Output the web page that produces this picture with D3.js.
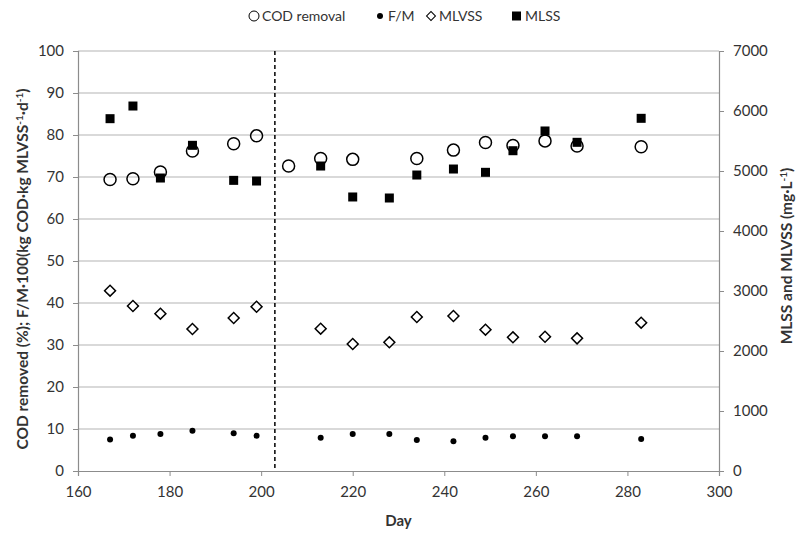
<!DOCTYPE html>
<html>
<head>
<meta charset="utf-8">
<script src="https://cdn.jsdelivr.net/npm/d3@7"></script>
<style>
  body { margin: 0; background: #fff; }
  text { font-family: Lato, "Liberation Sans", sans-serif; fill: #333; }
</style>
</head>
<body>
<script>
(function() {
    'use strict';

    // data
    var codDays = [167, 172, 178, 185, 194, 199, 206, 213, 220, 234, 242, 249, 255, 262, 269, 283];
    var codRemoval = [69.4, 69.6, 71.2, 76.2, 77.9, 79.8, 72.6, 74.4, 74.2, 74.4, 76.4, 78.2, 77.5, 78.6, 77.4, 77.2];

    var days = [167, 172, 178, 185, 194, 199, 213, 220, 228, 234, 242, 249, 255, 262, 269, 283];
    var fm = [7.5, 8.4, 8.8, 9.6, 9.0, 8.4, 7.9, 8.8, 8.8, 7.4, 7.1, 7.9, 8.3, 8.3, 8.3, 7.6];
    var mlvss = [3005, 2750, 2622, 2367, 2550, 2738, 2372, 2117, 2145, 2567, 2583, 2355, 2228, 2238, 2211, 2472];
    var mlss = [5872, 6083, 4883, 5428, 4844, 4833, 5083, 4567, 4550, 4933, 5033, 4978, 5338, 5667, 5478, 5878];

    var dayTicks = [160, 180, 200, 220, 240, 260, 280, 300];
    var leftTicks = [0, 10, 20, 30, 40, 50, 60, 70, 80, 90, 100];
    var rightTicks = [0, 1000, 2000, 3000, 4000, 5000, 6000, 7000];
    var phaseDay = 203;

    var width = 797, height = 533;
    var margin = { top: 51, right: 78, bottom: 62, left: 78 };

    var svg = d3.select('body').append('svg')
        .attr('width', width)
        .attr('height', height);

    var x = d3.scaleLinear().domain([160, 300]).range([margin.left, width - margin.right]);
    var yL = d3.scaleLinear().domain([0, 100]).range([height - margin.bottom, margin.top]);
    var yR = d3.scaleLinear().domain([0, 7000]).range([height - margin.bottom, margin.top]);

    // gridlines
    svg.append('g')
        .selectAll('line')
        .data(leftTicks.slice(1))
        .enter().append('line')
        .attr('x1', x(160)).attr('x2', x(300))
        .attr('y1', function(d) { return yL(d); })
        .attr('y2', function(d) { return yL(d); })
        .attr('stroke', '#b3b3b3')
        .attr('stroke-width', 1.2);

    // axes
    var xAxis = svg.append('g')
        .attr('transform', 'translate(0,' + yL(0) + ')')
        .call(d3.axisBottom(x).tickValues(dayTicks).tickSize(5).tickPadding(10));
    var leftAxis = svg.append('g')
        .attr('transform', 'translate(' + x(160) + ',0)')
        .call(d3.axisLeft(yL).tickValues(leftTicks).tickSize(5).tickPadding(9));
    var rightAxis = svg.append('g')
        .attr('transform', 'translate(' + x(300) + ',0)')
        .call(d3.axisRight(yR).tickValues(rightTicks).tickFormat(d3.format('d')).tickSize(5).tickPadding(9));

    [xAxis, leftAxis, rightAxis].forEach(function(g) {
        g.select('.domain').attr('stroke', '#8c8c8c').attr('stroke-width', 1.2);
        g.selectAll('.tick line').attr('stroke', '#8c8c8c');
        g.selectAll('.tick text')
            .style('font-family', 'Lato, "Liberation Sans", sans-serif')
            .style('font-size', '15px')
            .attr('fill', '#333');
    });

    // phase divider
    svg.append('line')
        .attr('x1', x(phaseDay)).attr('x2', x(phaseDay))
        .attr('y1', yL(100)).attr('y2', yL(0))
        .attr('stroke', '#000')
        .attr('stroke-width', 1.5)
        .attr('stroke-dasharray', '4,3');

    // MLVSS diamonds
    var diamond = d3.symbol().type(d3.symbolSquare).size(60);
    svg.append('g')
        .selectAll('path')
        .data(days)
        .enter().append('path')
        .attr('d', diamond)
        .attr('transform', function(d, i) {
            return 'translate(' + x(d) + ',' + yR(mlvss[i]) + ') rotate(45)';
        })
        .attr('fill', '#fff')
        .attr('stroke', '#000')
        .attr('stroke-width', 1.5);

    // MLSS squares
    svg.append('g')
        .selectAll('rect')
        .data(days)
        .enter().append('rect')
        .attr('x', function(d) { return x(d) - 4.5; })
        .attr('y', function(d, i) { return yR(mlss[i]) - 4.5; })
        .attr('width', 9)
        .attr('height', 9)
        .attr('fill', '#000');

    // COD removal circles
    svg.append('g')
        .selectAll('circle')
        .data(codDays)
        .enter().append('circle')
        .attr('cx', function(d) { return x(d); })
        .attr('cy', function(d, i) { return yL(codRemoval[i]); })
        .attr('r', 6)
        .attr('fill', 'none')
        .attr('stroke', '#000')
        .attr('stroke-width', 1.5);

    // F/M dots
    svg.append('g')
        .selectAll('circle')
        .data(days)
        .enter().append('circle')
        .attr('cx', function(d) { return x(d); })
        .attr('cy', function(d, i) { return yL(fm[i]); })
        .attr('r', 3)
        .attr('fill', '#000');

    // axis titles
    svg.append('text')
        .attr('x', x(230))
        .attr('y', 526)
        .attr('text-anchor', 'middle')
        .style('font-size', '15px')
        .style('font-weight', 'bold')
        .attr('fill', '#000')
        .text('Day');

    var lt = svg.append('text')
        .attr('transform', 'translate(28,269) rotate(-90)')
        .attr('text-anchor', 'middle')
        .style('font-size', '15.5px')
        .style('font-weight', 'bold')
        .attr('fill', '#000');
    lt.append('tspan').text('COD removed (%); F/M·100(kg COD·kg MLVSS');
    lt.append('tspan').attr('dy', -5).style('font-size', '10px').text('-1');
    lt.append('tspan').attr('dy', 5).text('·d');
    lt.append('tspan').attr('dy', -5).style('font-size', '10px').text('-1');
    lt.append('tspan').attr('dy', 5).text(')');

    var rt = svg.append('text')
        .attr('transform', 'translate(792,256) rotate(-90)')
        .attr('text-anchor', 'middle')
        .style('font-size', '15.5px')
        .style('font-weight', 'bold')
        .attr('fill', '#000');
    rt.append('tspan').text('MLSS and MLVSS (mg·L');
    rt.append('tspan').attr('dy', -5).style('font-size', '10px').text('-1');
    rt.append('tspan').attr('dy', 5).text(')');

    // legend
    var legendY = 16;
    var lg = svg.append('g');
    lg.append('circle').attr('cx', 254).attr('cy', legendY).attr('r', 5)
        .attr('fill', 'none').attr('stroke', '#000').attr('stroke-width', 1);
    lg.append('text').attr('x', 262).attr('y', legendY + 5).style('font-size', '14px').text('COD removal');
    lg.append('circle').attr('cx', 380).attr('cy', legendY).attr('r', 3).attr('fill', '#000');
    lg.append('text').attr('x', 388).attr('y', legendY + 5).style('font-size', '14px').text('F/M');
    lg.append('path').attr('d', d3.symbol().type(d3.symbolSquare).size(40))
        .attr('transform', 'translate(431,' + legendY + ') rotate(45)')
        .attr('fill', 'none').attr('stroke', '#000').attr('stroke-width', 1);
    lg.append('text').attr('x', 439).attr('y', legendY + 5).style('font-size', '14px').text('MLVSS');
    lg.append('rect').attr('x', 512).attr('y', legendY - 4.5).attr('width', 9).attr('height', 9).attr('fill', '#000');
    lg.append('text').attr('x', 525).attr('y', legendY + 5).style('font-size', '14px').text('MLSS');
}());
</script>
</body>
</html>
